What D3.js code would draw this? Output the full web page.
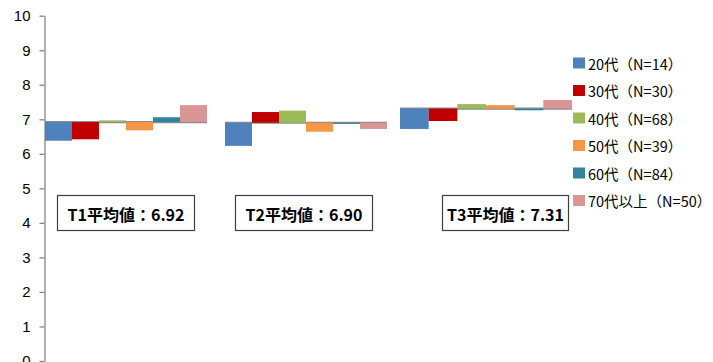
<!DOCTYPE html>
<html>
<head>
<meta charset="utf-8">
<script src="https://cdn.jsdelivr.net/npm/d3@7"></script>
<style>
  html, body { margin: 0; padding: 0; background: #fff; }
  svg { display: block; }
</style>
</head>
<body>
<svg id="chart" width="713" height="362"></svg>
<script>
// Survey waves and their overall averages
const waves = ["T1", "T2", "T3"];
const waveAverages = [6.92, 6.90, 7.31];

// Age groups (legend labels)
const ageGroups = ["20代（N=14）", "30代（N=30）", "40代（N=68）", "50代（N=39）", "60代（N=84）", "70代以上（N=50）"];

// Mean score per age group, one array per wave
const valuesT1 = [6.38, 6.42, 6.97, 6.68, 7.06, 7.41];
const valuesT2 = [6.23, 7.21, 7.25, 6.64, 6.87, 6.72];
const valuesT3 = [6.72, 6.95, 7.44, 7.41, 7.26, 7.56];

// Y axis ticks
const yTicks = [0, 1, 2, 3, 4, 5, 6, 7, 8, 9, 10];

const colors = ["#4F81BD", "#C00000", "#9BBB59", "#F79646", "#31859C", "#DA9694"];

const waveValues = [valuesT1, valuesT2, valuesT3];

// layout
const groupSpan = { T1: 162, T2: 162, T3: 172 };
const boxLayout = {               // label box: offset of its centre from the wave centre, width
  T1: { dx: -0.5, w: 137 },
  T2: { dx: -2.5, w: 137 },
  T3: { dx: 19, w: 126 }
};

const svg = d3.select("#chart");

const y = d3.scaleLinear().domain([0, 10]).range([361, 15.7]);
const x = d3.scaleBand().domain(waves).range([36, 576]).padding(0);

// Y axis
const yAxis = d3.axisLeft(y).tickValues(yTicks).tickSize(5).tickPadding(9).tickSizeOuter(0);
const gy = svg.append("g").attr("transform", "translate(44.5,0)").call(yAxis);
gy.select(".domain").attr("stroke", "#868686").attr("stroke-width", 1.3);
gy.selectAll(".tick line").attr("stroke", "#868686").attr("stroke-width", 1.3);
gy.selectAll(".tick text")
  .attr("fill", "#000")
  .style("font-family", "'Liberation Sans', Arial, sans-serif")
  .style("font-size", "15px");

// Bars floating from each wave's average
waves.forEach((w, i) => {
  const c = x(w) + x.bandwidth() / 2;
  const span = groupSpan[w];
  const inner = d3.scaleBand().domain(ageGroups).range([c - span / 2, c + span / 2]).padding(0);
  const avg = waveAverages[i];
  const g = svg.append("g");

  // average baseline
  g.append("line")
    .attr("x1", c - span / 2).attr("x2", c + span / 2)
    .attr("y1", y(avg)).attr("y2", y(avg))
    .attr("stroke", "#8C8C8C").attr("stroke-width", 2.2);

  g.selectAll("rect.bar")
    .data(waveValues[i].map((v, j) => ({ v, k: ageGroups[j], col: colors[j] })))
    .join("rect")
    .attr("class", "bar")
    .attr("x", d => inner(d.k))
    .attr("width", inner.bandwidth())
    .attr("y", d => Math.min(y(d.v), y(avg)))
    .attr("height", d => Math.max(1, Math.abs(y(d.v) - y(avg))))
    .attr("fill", d => d.col);

  // average label box
  const b = boxLayout[w];
  const bx = c + b.dx - b.w / 2;
  svg.append("rect")
    .attr("x", bx + 0.5).attr("y", 195.5)
    .attr("width", b.w).attr("height", 35)
    .attr("fill", "#fff").attr("stroke", "#404040").attr("stroke-width", 1.2);
  svg.append("text")
    .attr("x", bx + b.w / 2 + 0.5).attr("y", 213.5)
    .attr("text-anchor", "middle").attr("dominant-baseline", "central")
    .style("font-family", "'Noto Sans CJK JP', sans-serif")
    .style("font-weight", "bold").style("font-size", "16px")
    .attr("fill", "#000")
    .text(`${w}平均値：${d3.format(".2f")(avg)}`);
});

// Legend
const legend = svg.append("g").attr("transform", "translate(573,63)");
ageGroups.forEach((name, j) => {
  const row = legend.append("g").attr("transform", `translate(0,${j * 27.5})`);
  row.append("rect").attr("x", 0).attr("y", -5.5).attr("width", 12).attr("height", 11).attr("fill", colors[j]);
  row.append("text")
    .attr("x", 15).attr("y", 0).attr("dominant-baseline", "central")
    .style("font-family", "'Noto Sans CJK JP', sans-serif")
    .style("font-size", "14.5px").attr("fill", "#000")
    .text(name);
});
</script>
</body>
</html>
